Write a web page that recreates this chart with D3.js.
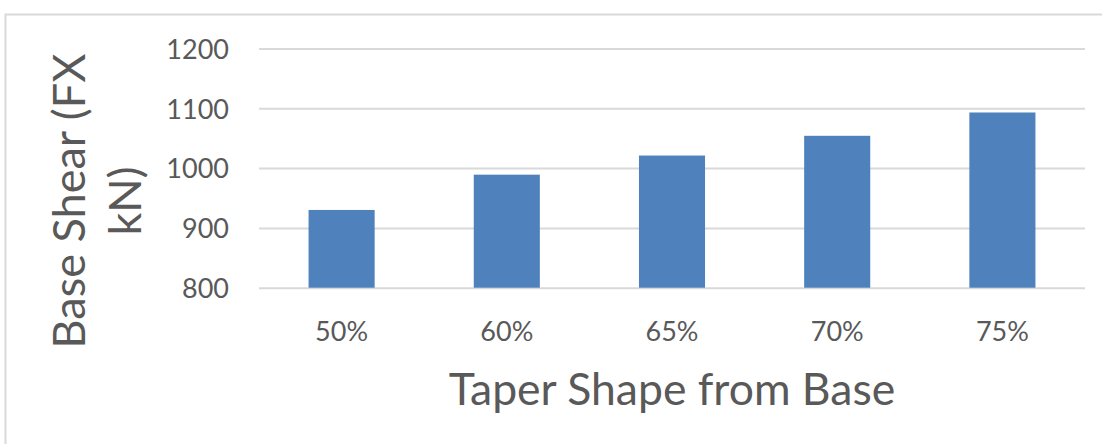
<!DOCTYPE html>
<html>
<head>
<meta charset="utf-8">
<script src="https://cdn.jsdelivr.net/npm/d3@7"></script>
<style>
  html, body { margin: 0; padding: 0; background: #fff; }
  svg { display: block; }
  text { font-family: Lato, "Open Sans", sans-serif; fill: #595959; }
</style>
</head>
<body>
<svg id="chart" width="1102" height="444"></svg>
<script>
// Base shear (FX, kN) for each taper shape
const categories = ["50%", "60%", "65%", "70%", "75%"];
const baseShear = [930, 989, 1021, 1054, 1093];
const yTicks = [800, 900, 1000, 1100, 1200];
const xTitle = "Taper Shape from Base";
const yTitleLines = ["Base Shear (FX", "kN)"];

const W = 1102, H = 444;
const plot = { left: 259, right: 1085, top: 48.5, bottom: 287.7 };

const svg = d3.select("#chart");
svg.append("rect").attr("width", W).attr("height", H).attr("fill", "#fff");

// chart-area frame (top and left edges)
svg.append("path")
  .attr("d", `M5.5,${H} V14.5 H${W}`)
  .attr("fill", "none")
  .attr("stroke", "#D9D9D9")
  .attr("stroke-width", 2);

const x = d3.scaleBand()
  .domain(categories)
  .range([plot.left, plot.right])
  .paddingInner(0.6)
  .paddingOuter(0.3);

const y = d3.scaleLinear()
  .domain([800, 1200])
  .range([plot.bottom, plot.top]);

// value axis with horizontal gridlines
const yAxis = svg.append("g")
  .attr("transform", `translate(${plot.left},0)`)
  .call(d3.axisLeft(y)
    .tickValues(yTicks)
    .tickSize(-(plot.right - plot.left))
    .tickPadding(30)
    .tickFormat(d3.format("d")));
yAxis.select(".domain").remove();
yAxis.selectAll(".tick line")
  .attr("stroke", "#D9D9D9")
  .attr("stroke-width", 2);
yAxis.selectAll(".tick text")
  .attr("fill", "#595959")
  .style("font-size", "27px")
  .attr("dy", "0.36em");

// bars
svg.append("g")
  .selectAll("rect")
  .data(categories.map((c, i) => ({ c, v: baseShear[i] })))
  .join("rect")
  .attr("x", d => x(d.c))
  .attr("width", x.bandwidth())
  .attr("y", d => y(d.v))
  .attr("height", d => y(800) - y(d.v))
  .attr("fill", "#4F81BD");

// category axis
const xAxis = svg.append("g")
  .attr("transform", `translate(0,${plot.bottom})`)
  .call(d3.axisBottom(x).tickSize(0).tickPadding(34));
xAxis.select(".domain").remove();
xAxis.selectAll(".tick text")
  .attr("fill", "#595959")
  .style("font-size", "27px");

// axis titles
svg.append("text")
  .attr("x", (plot.left + plot.right) / 2)
  .attr("y", 405)
  .attr("text-anchor", "middle")
  .style("font-size", "44.5px")
  .text(xTitle);

const yTitle = svg.append("text")
  .attr("transform", "translate(85,201) rotate(-90)")
  .attr("text-anchor", "middle")
  .style("font-size", "45px");
yTitle.selectAll("tspan")
  .data(yTitleLines)
  .join("tspan")
  .attr("x", 0)
  .attr("y", (d, i) => i * 56)
  .text(d => d);
</script>
</body>
</html>
